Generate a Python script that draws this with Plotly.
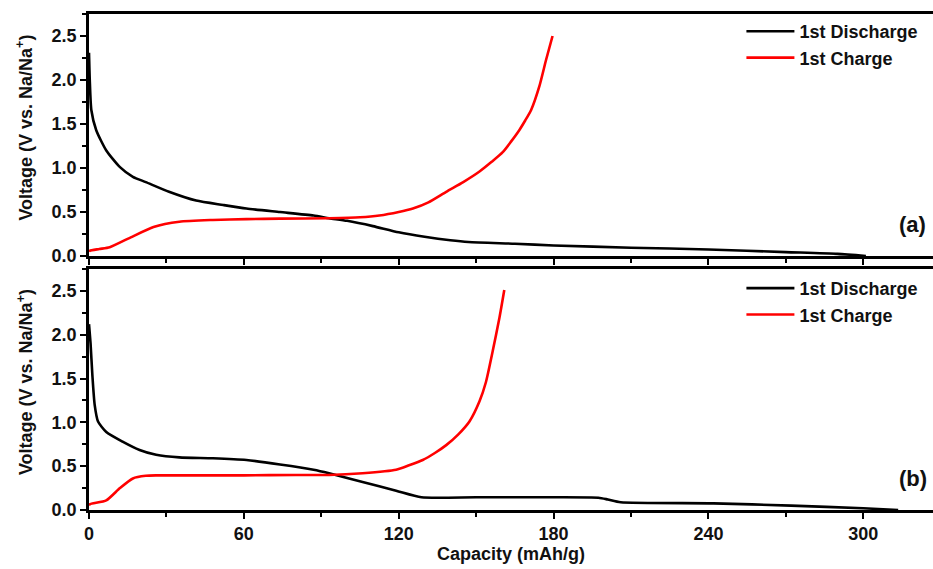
import plotly.graph_objects as go

# ---- data ----
# Panel (a)
cap_a_dis = [0, 0.3, 0.9, 2.8, 6.7, 12, 17, 22, 31, 41.5, 52, 61, 74, 87, 93, 100, 110, 120,
             130, 140, 147, 165, 180, 210, 240, 270, 290, 301]
v_a_dis = [2.31, 2.0, 1.66, 1.43, 1.20, 1.01, 0.90, 0.84, 0.73, 0.63, 0.58, 0.54, 0.50, 0.46,
           0.43, 0.40, 0.34, 0.27, 0.22, 0.18, 0.16, 0.14, 0.12, 0.095, 0.075, 0.045, 0.025, 0.0]
cap_a_chg = [0, 0.3, 4, 8, 16, 25, 35, 48, 61, 74, 93, 105, 112.5, 120, 125.5, 131.5, 138.4,
             145, 151.3, 156, 160.3, 163.5, 166.7, 169, 171.3, 174.5, 177.1, 179.6]
v_a_chg = [0.05, 0.06, 0.08, 0.10, 0.21, 0.33, 0.39, 0.41, 0.42, 0.425, 0.43, 0.44, 0.46, 0.50,
           0.54, 0.61, 0.73, 0.84, 0.96, 1.07, 1.18, 1.30, 1.43, 1.54, 1.66, 1.93, 2.23, 2.50]

# Panel (b)
cap_b_dis = [0, 0.6, 1.3, 2.2, 3.5, 6.7, 13, 19.6, 26, 35, 48, 61, 74, 87, 93, 106, 119, 128.8,
             150, 180, 197.4, 201, 206, 242, 272, 300, 313.5]
v_b_dis = [2.12, 1.9, 1.54, 1.20, 1.01, 0.89, 0.78, 0.685, 0.63, 0.60, 0.59, 0.57, 0.52, 0.46,
           0.42, 0.32, 0.22, 0.145, 0.145, 0.145, 0.14, 0.12, 0.088, 0.076, 0.05, 0.02, 0.0]
cap_b_chg = [0, 0.3, 6.7, 12, 17, 22, 26, 40, 60, 80, 93, 106, 119, 124, 129.3, 134, 138.4,
             143, 147.4, 151.3, 153.8, 156.4, 159, 160.9]
v_b_chg = [0.05, 0.065, 0.11, 0.25, 0.36, 0.39, 0.395, 0.395, 0.395, 0.40, 0.40, 0.42, 0.46,
           0.51, 0.57, 0.65, 0.74, 0.86, 1.01, 1.24, 1.46, 1.81, 2.19, 2.51]

x_ticks = [0, 60, 120, 180, 240, 300]
y_ticks = [0.0, 0.5, 1.0, 1.5, 2.0, 2.5]
series_names = ["1st Discharge", "1st Charge"]
colors = ["#000000", "#ff0000"]

FONT = "Liberation Sans, Arial, sans-serif"
TXT = "#111111"

fig = go.Figure()
def add(xs, ys, i, xa, ya, lg):
    fig.add_trace(go.Scatter(x=xs, y=ys, name=series_names[i], mode="lines",
                             line=dict(color=colors[i], width=2.6, shape="spline", smoothing=0.6),
                             xaxis=xa, yaxis=ya, legend=lg))

add(cap_a_dis, v_a_dis, 0, "x", "y", "legend")
add(cap_a_chg, v_a_chg, 1, "x", "y", "legend")
add(cap_b_dis, v_b_dis, 0, "x2", "y2", "legend2")
add(cap_b_chg, v_b_chg, 1, "x2", "y2", "legend2")

tickfont = dict(family=FONT, size=18, color=TXT, weight="bold")

xcommon = dict(range=[0, 327], tickvals=x_ticks, ticks="outside", ticklen=6, tickwidth=2,
               tickcolor="#000", showline=True, linewidth=2.6, linecolor="#000", mirror=True,
               showgrid=False, zeroline=False, tickfont=tickfont,
               minor=dict(dtick=30, tick0=0, ticks="outside", ticklen=4, tickwidth=2, tickcolor="#000"))
ycommon = dict(range=[0, 2.75], tickvals=y_ticks, tickformat=".1f", ticks="outside", ticklen=6,
               tickwidth=2, tickcolor="#000", showline=True, linewidth=2.6, linecolor="#000",
               mirror=False, showgrid=False, zeroline=False, tickfont=tickfont,
               minor=dict(dtick=0.25, tick0=0, ticks="outside", ticklen=4, tickwidth=2, tickcolor="#000"))

legfont = dict(family=FONT, size=18, color=TXT, weight="bold")

fig.update_layout(
    width=933, height=569,
    margin=dict(l=89, r=0, t=14, b=59),
    paper_bgcolor="white", plot_bgcolor="white",
    xaxis=dict(xcommon, domain=[0, 1], anchor="y", showticklabels=False),
    yaxis=dict(ycommon, domain=[0.512, 1], anchor="x"),
    xaxis2=dict(xcommon, domain=[0, 1], anchor="y2",
                title=dict(text="Capacity (mAh/g)", standoff=0,
                           font=dict(family=FONT, size=18, color=TXT, weight="bold"))),
    yaxis2=dict(ycommon, domain=[0, 0.486], anchor="x2"),
    legend=dict(x=0.773, y=1.002, xanchor="left", yanchor="top", bgcolor="rgba(0,0,0,0)",
                font=legfont, itemwidth=48, tracegroupgap=0),
    legend2=dict(x=0.773, y=0.484, xanchor="left", yanchor="top", bgcolor="rgba(0,0,0,0)",
                 font=legfont, itemwidth=48, tracegroupgap=0),
    showlegend=True,
)

ylabel = "Voltage (V vs. Na/Na<sup>+</sup>)"
for yref in ["y domain", "y2 domain"]:
    fig.add_annotation(text=ylabel, xref="paper", yref=yref, x=-0.076, y=0.53,
                       textangle=-90, showarrow=False, xanchor="center", yanchor="middle",
                       font=dict(family=FONT, size=18, color=TXT, weight="bold"))

fig.add_annotation(text="(a)", xref="paper", yref="y", x=0.976, y=0.36, showarrow=False,
                   xanchor="center", yanchor="middle",
                   font=dict(family=FONT, size=22, color=TXT, weight="bold"))
fig.add_annotation(text="(b)", xref="paper", yref="y2", x=0.976, y=0.354, showarrow=False,
                   xanchor="center", yanchor="middle",
                   font=dict(family=FONT, size=22, color=TXT, weight="bold"))

fig.write_html("out.html", config={"displayModeBar": False},
               post_script="document.body.style.margin='0';")
